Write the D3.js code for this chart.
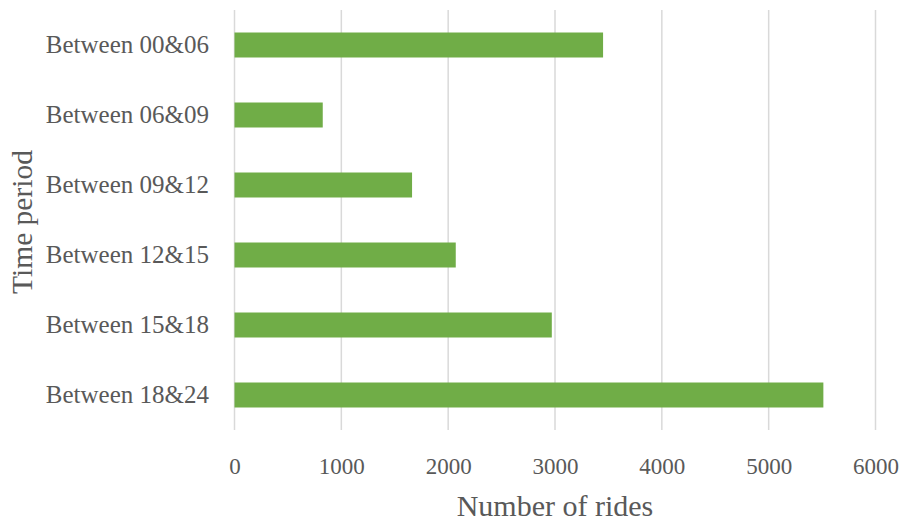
<!DOCTYPE html>
<html>
<head>
<meta charset="utf-8">
<script src="https://cdn.jsdelivr.net/npm/d3@7"></script>
<style>
  html, body { margin: 0; padding: 0; background: #ffffff; }
  svg text { font-family: "Liberation Serif", "DejaVu Serif", serif; fill: #595959; }
</style>
</head>
<body>
<svg id="chart" width="903" height="523"></svg>
<script>
// Rides per time-of-day window
const periods = ["Between 00&06", "Between 06&09", "Between 09&12", "Between 12&15", "Between 15&18", "Between 18&24"];
const rides = [3450, 826, 1662, 2071, 2970, 5512];
const xTicks = [0, 1000, 2000, 3000, 4000, 5000, 6000];
const xTitle = "Number of rides";
const yTitle = "Time period";

const svg = d3.select("#chart");
const plot = { left: 234.5, right: 875.5, top: 10, bottom: 430 };

const x = d3.scaleLinear().domain([0, 6000]).range([plot.left, plot.right]);
const y = d3.scaleBand().domain(periods).range([plot.top, plot.bottom])
  .paddingInner(0.643).paddingOuter(0.3215);

// vertical gridlines
svg.append("g").selectAll("line").data(xTicks).join("line")
  .attr("x1", d => x(d)).attr("x2", d => x(d))
  .attr("y1", plot.top).attr("y2", plot.bottom)
  .attr("stroke", "#d9d9d9").attr("stroke-width", 1.5);

// bars
svg.append("g").selectAll("rect").data(periods).join("rect")
  .attr("x", x(0))
  .attr("y", d => y(d))
  .attr("width", (d, i) => x(rides[i]) - x(0))
  .attr("height", y.bandwidth())
  .attr("fill", "#70ad47");

// x tick labels
const xAxis = d3.axisBottom(x).tickValues(xTicks).tickSize(0).tickPadding(0).tickFormat(d3.format("d"));
const gx = svg.append("g").attr("transform", `translate(0, 458)`).call(xAxis);
gx.select(".domain").remove();
gx.selectAll("text").attr("font-size", 23).attr("dy", "0.71em")
  .style("font-family", "Liberation Serif").style("fill", "#595959");

// category labels
const yAxis = d3.axisLeft(y).tickSize(0).tickPadding(0);
const gy = svg.append("g").attr("transform", `translate(209, 0)`).call(yAxis);
gy.select(".domain").remove();
gy.selectAll("text").attr("font-size", 25)
  .style("font-family", "Liberation Serif").style("fill", "#595959");

// axis titles
svg.append("text")
  .attr("x", 555).attr("y", 516)
  .attr("text-anchor", "middle").attr("font-size", 30)
  .text(xTitle);

svg.append("text")
  .attr("transform", "translate(32, 222) rotate(-90)")
  .attr("text-anchor", "middle").attr("font-size", 29.5)
  .text(yTitle);
</script>
</body>
</html>
